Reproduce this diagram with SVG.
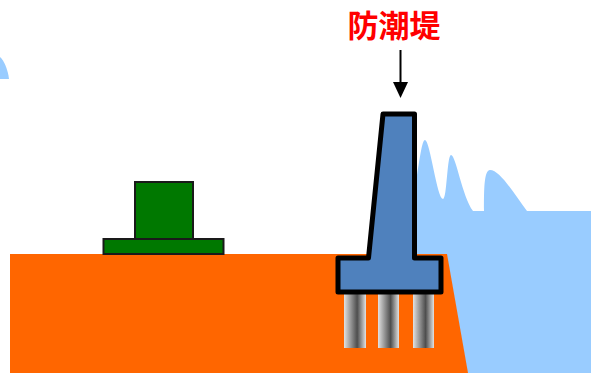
<svg xmlns="http://www.w3.org/2000/svg" width="591" height="373" viewBox="0 0 591 373">
  <style>
    .water { fill: #99ccff; }
    .ground { fill: #ff6600; }
    .bldg { fill: #007800; stroke: #1a1a1a; stroke-width: 2; }
    .wall { fill: #4f81bd; stroke: #000; stroke-width: 5; stroke-linejoin: round; }
    .pile { fill: url(#pileShade); }
    .label { font-family: "Noto Sans CJK JP", "Noto Sans CJK SC", sans-serif; font-weight: bold; font-size: 31px; fill: #ff0000; }
    .conn { stroke: #000; stroke-width: 2; fill: none; }
  </style>
  <defs>
    <linearGradient id="pileShade" x1="0" y1="0" x2="1" y2="0">
      <stop offset="0" stop-color="#e2e2e2"/>
      <stop offset="0.6" stop-color="#4e4e4e"/>
      <stop offset="1" stop-color="#e2e2e2"/>
    </linearGradient>
  </defs>
  <rect width="591" height="373" fill="#fff"/>

  <!-- sea: distant wave crest at the left and waves against the wall -->
  <g id="sea">
    <path class="water" d="M0,57 C4,60 8,70 9,79 L0,79 Z"/>
    <path class="water" d="M414,190 L417,175 C420,158 422,140 425,140 C430,140 437,199 443,199 C447,199 447,155 451,155 C456,155 462,196 473,211 L484,211 C484,190 484,170 490,170 C500,170 515,195 527,211 L591,211 L591,373 L414,373 Z"/>
  </g>

  <!-- land -->
  <g id="ground">
    <polygon class="ground" points="10,254 447,254 468,373 10,373"/>
  </g>

  <!-- building on land -->
  <g id="building">
    <rect class="bldg" x="135" y="182" width="58" height="57"/>
    <rect class="bldg" x="103.5" y="239" width="120" height="15"/>
  </g>

  <!-- seawall with foundation piles -->
  <g id="seawall">
    <rect class="pile" x="344" y="292" width="22" height="56"/>
    <rect class="pile" x="378" y="292" width="21" height="56"/>
    <rect class="pile" x="413" y="292" width="21" height="56"/>
    <path class="wall" d="M383,114 L414.5,114 L414.5,258 L441,258 L441,292 L338,292 L338,258 L368.5,258 Z"/>
  </g>

  <g id="label">
    <text class="label" x="394" y="36.5" text-anchor="middle">防潮堤</text>
  </g>

  <g id="connectors">
    <line class="conn" x1="400.5" y1="50" x2="400.5" y2="84"/>
    <polygon points="393,82 408,82 400.5,98" fill="#000"/>
  </g>
</svg>
